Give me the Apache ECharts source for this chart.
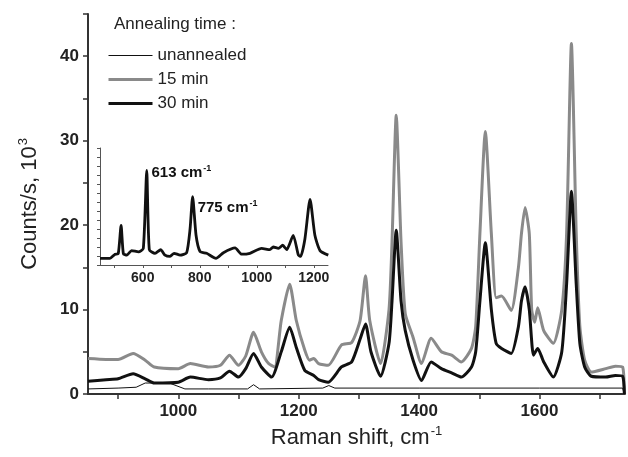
<!DOCTYPE html>
<html>
<head>
<meta charset="utf-8">
<script src="https://cdn.jsdelivr.net/npm/echarts@6/dist/echarts.min.js"></script>
<style>
  html, body { margin: 0; padding: 0; background: #fff; }
  #chart { width: 628px; height: 457px; }
</style>
</head>
<body>
<div id="chart"></div>
<script>
// main spectra (Raman shift, counts/s in 10^3)
const shift0 = [850, 900, 930, 945, 985, 1011, 1050, 1115, 1125, 1135, 1240, 1250, 1260, 1400, 1600, 1738, 1741]
const unannealed = [0.6, 0.7, 0.8, 1.3, 1.3, 0.6, 0.6, 0.6, 1.1, 0.6, 0.7, 1.0, 0.7, 0.7, 0.7, 0.7, 0]

const shift15 = [850, 880, 900, 925, 945, 960, 1000, 1020, 1050, 1070, 1085, 1100, 1112, 1125, 1138, 1150, 1160,
  1171, 1185, 1196, 1210, 1218, 1225, 1233, 1249, 1271, 1288, 1302, 1311, 1318, 1336, 1350, 1355, 1362, 1370,
  1377, 1390, 1404, 1420, 1437, 1454, 1470, 1487, 1494, 1501, 1510, 1520, 1528, 1537, 1553, 1565, 1570, 1576,
  1583, 1587, 1592, 1597, 1607, 1623, 1637, 1645, 1653, 1661, 1667, 1675, 1686, 1710, 1726, 1738, 1741]
const min15 = [4.2, 4.1, 4.1, 4.8, 4.0, 3.2, 3.0, 3.6, 3.2, 3.4, 4.6, 3.4, 4.5, 7.3, 5.0, 3.6, 3.2,
  8.7, 13.0, 8.7, 5.2, 4.0, 4.2, 3.6, 3.4, 5.8, 6.1, 8.7, 14.0, 8.7, 3.6, 10, 18, 33.0, 18,
  9.5, 6.7, 3.6, 6.6, 5.0, 4.6, 3.8, 5.4, 8, 19, 31.1, 19, 11.4, 11.6, 9.9, 15, 19, 22.1,
  19, 10, 8.5, 10.2, 7.5, 6.0, 10, 19, 41.5, 19, 8, 4.0, 2.6, 3.0, 3.3, 3.2, 0]

const shift30 = [850, 880, 900, 925, 945, 960, 1000, 1020, 1050, 1070, 1085, 1100, 1112, 1125, 1138, 1155,
  1171, 1185, 1196, 1210, 1225, 1233, 1249, 1271, 1288, 1302, 1311, 1320, 1336, 1350, 1355, 1362, 1370,
  1377, 1390, 1404, 1420, 1437, 1454, 1470, 1487, 1494, 1501, 1510, 1520, 1528, 1537, 1553, 1565, 1570, 1576,
  1583, 1590, 1597, 1607, 1623, 1637, 1645, 1653, 1661, 1667, 1675, 1686, 1710, 1726, 1738, 1741]
const min30 = [1.5, 1.7, 1.8, 2.4, 1.8, 1.3, 1.4, 2.0, 1.7, 1.9, 2.7, 2.0, 3.0, 4.8, 3.2, 2.0,
  5.0, 7.9, 5.5, 2.8, 2.2, 1.7, 1.4, 3.2, 3.8, 6.5, 8.3, 5.0, 2.1, 6, 11, 19.4, 11,
  7.5, 4.0, 1.6, 3.8, 3.0, 2.5, 2.0, 3.2, 5, 11, 17.9, 10, 6.0, 5.4, 4.8, 8, 11, 12.7,
  10, 4.6, 5.4, 3.8, 2.0, 5, 13, 24.0, 13, 6, 3.2, 2.1, 2.0, 2.2, 2.1, 0]

// inset spectrum (arbitrary units)
const insetShift = [450, 485, 503, 514, 524, 532, 544, 561, 585, 602, 614, 623, 643, 663, 678, 696, 710, 731,
  754, 766, 775, 787, 801, 824, 857, 883, 924, 947, 976, 1017, 1046, 1058, 1076, 1091, 1105, 1128, 1146,
  1154, 1169, 1187, 1204, 1222, 1251]
const insetCounts = [7.4, 7.4, 12, 12.6, 44, 12.6, 11, 16, 14.6, 18.5, 105, 17, 13, 17, 11, 9.6, 13, 11,
  13.7, 40, 76, 33, 15, 13, 7.4, 13.7, 19, 12, 13, 18.5, 17, 20, 18.5, 22, 17, 33, 11,
  9.6, 29, 73, 33, 16, 11]
const peakShifts = [613, 775]
const peakHeights = [105, 76]
const peakOffsets = [[0, 2], [0, 11]]

const zip = (xs, ys) => xs.map((x, i) => [x, ys[i]])
const FONT = '"Liberation Sans", Arial, sans-serif'

const chart = echarts.init(document.getElementById('chart'))

const option = {
  animation: false,
  title: {
    text: 'Annealing time :',
    left: 109,
    top: 11,
    textStyle: { fontFamily: FONT, fontSize: 17, fontWeight: 'normal', color: '#222' }
  },
  legend: {
    orient: 'vertical',
    left: 102,
    top: 41,
    itemWidth: 44,
    itemHeight: 14,
    itemGap: 5,
    itemStyle: { opacity: 0 },
    textStyle: { fontFamily: FONT, fontSize: 17, color: '#222', lineHeight: 19 },
    data: [
      { name: 'unannealed', lineStyle: { width: 1 } },
      { name: '15 min', lineStyle: { width: 3 } },
      { name: '30 min', lineStyle: { width: 3 } }
    ]
  },
  grid: [
    { left: 88, top: 14, width: 537, height: 380 },
    { left: 100, top: 148, width: 228, height: 117 }
  ],
  xAxis: [
    {
      type: 'value',
      gridIndex: 0,
      min: 850,
      max: 1742,
      minInterval: 100,
      maxInterval: 100,
      name: 'Raman shift, cm{s|-1}',
      nameLocation: 'middle',
      nameGap: 31,
      nameTextStyle: {
        fontFamily: FONT, fontSize: 22, color: '#222',
        rich: { s: { fontFamily: FONT, fontSize: 13, color: '#222', verticalAlign: 'top', padding: [0, 0, 12, 1] } }
      },
      axisLine: { lineStyle: { color: '#333', width: 2 } },
      axisTick: { length: 5, lineStyle: { color: '#333', width: 1.5 } },
      axisLabel: {
        fontFamily: FONT, fontSize: 17, fontWeight: 'bold', color: '#222', margin: 9,
        showMinLabel: false, showMaxLabel: false,
        formatter: v => (v % 200 === 0 ? String(v) : '')
      },
      splitLine: { show: false }
    },
    {
      type: 'value',
      gridIndex: 1,
      min: 450,
      max: 1250,
      minInterval: 100,
      maxInterval: 100,
      axisLine: { lineStyle: { color: '#555', width: 1 } },
      axisTick: { length: 3, lineStyle: { color: '#555', width: 1 } },
      axisLabel: {
        fontFamily: FONT, fontSize: 14, fontWeight: 'bold', color: '#222', margin: 6,
        showMinLabel: false, showMaxLabel: false,
        formatter: v => (v % 200 === 0 ? String(v) : '')
      },
      splitLine: { show: false }
    }
  ],
  yAxis: [
    {
      type: 'value',
      gridIndex: 0,
      min: 0,
      max: 45,
      interval: 5,
      name: 'Counts/s, 10{s|3}',
      nameLocation: 'middle',
      nameRotate: 90,
      nameGap: 46,
      nameTextStyle: {
        fontFamily: FONT, fontSize: 22, color: '#222',
        rich: { s: { fontFamily: FONT, fontSize: 13, color: '#222', verticalAlign: 'top', padding: [0, 0, 12, 1] } }
      },
      axisLine: { show: true, lineStyle: { color: '#333', width: 2 } },
      axisTick: { show: true, length: 5, lineStyle: { color: '#333', width: 1.5 } },
      axisLabel: {
        fontFamily: FONT, fontSize: 17, fontWeight: 'bold', color: '#222', margin: 9,
        formatter: v => (v % 10 === 0 && v <= 40 ? String(v) : '')
      },
      splitLine: { show: false }
    },
    {
      type: 'value',
      gridIndex: 1,
      min: 0,
      max: 130,
      interval: 10,
      axisLine: { show: true, lineStyle: { color: '#555', width: 1 } },
      axisTick: { show: true, length: 3, lineStyle: { color: '#555', width: 1 } },
      axisLabel: { show: false },
      splitLine: { show: false }
    }
  ],
  series: [
    {
      name: 'unannealed',
      type: 'line',
      xAxisIndex: 0,
      yAxisIndex: 0,
      symbol: 'none',
      data: zip(shift0, unannealed),
      lineStyle: { color: '#111', width: 1 },
      itemStyle: { color: '#111' },
      z: 3
    },
    {
      name: '15 min',
      type: 'line',
      xAxisIndex: 0,
      yAxisIndex: 0,
      symbol: 'none',
      smooth: 0.2,
      data: zip(shift15, min15),
      lineStyle: { color: '#8a8a8a', width: 3 },
      itemStyle: { color: '#8a8a8a' },
      z: 2
    },
    {
      name: '30 min',
      type: 'line',
      xAxisIndex: 0,
      yAxisIndex: 0,
      symbol: 'none',
      smooth: 0.2,
      data: zip(shift30, min30),
      lineStyle: { color: '#111', width: 3 },
      itemStyle: { color: '#111' },
      z: 4
    },
    {
      name: 'inset',
      type: 'line',
      xAxisIndex: 1,
      yAxisIndex: 1,
      symbol: 'none',
      smooth: 0.2,
      data: zip(insetShift, insetCounts),
      lineStyle: { color: '#111', width: 2.8 },
      markPoint: {
        symbol: 'circle',
        symbolSize: 0,
        silent: true,
        label: {
          show: true,
          position: 'right',
          distance: 5,
          formatter: p => '{b|' + p.data.coord[0] + ' cm}{s|-1}',
          rich: {
            b: { fontFamily: FONT, fontSize: 15, fontWeight: 'bold', color: '#111' },
            s: { fontFamily: FONT, fontSize: 9, fontWeight: 'bold', color: '#111', verticalAlign: 'top', padding: [0, 0, 8, 1] }
          }
        },
        data: peakShifts.map((x, i) => ({ coord: [x, peakHeights[i]], label: { offset: peakOffsets[i] } }))
      }
    }
  ]
}

chart.setOption(option)
</script>
</body>
</html>
